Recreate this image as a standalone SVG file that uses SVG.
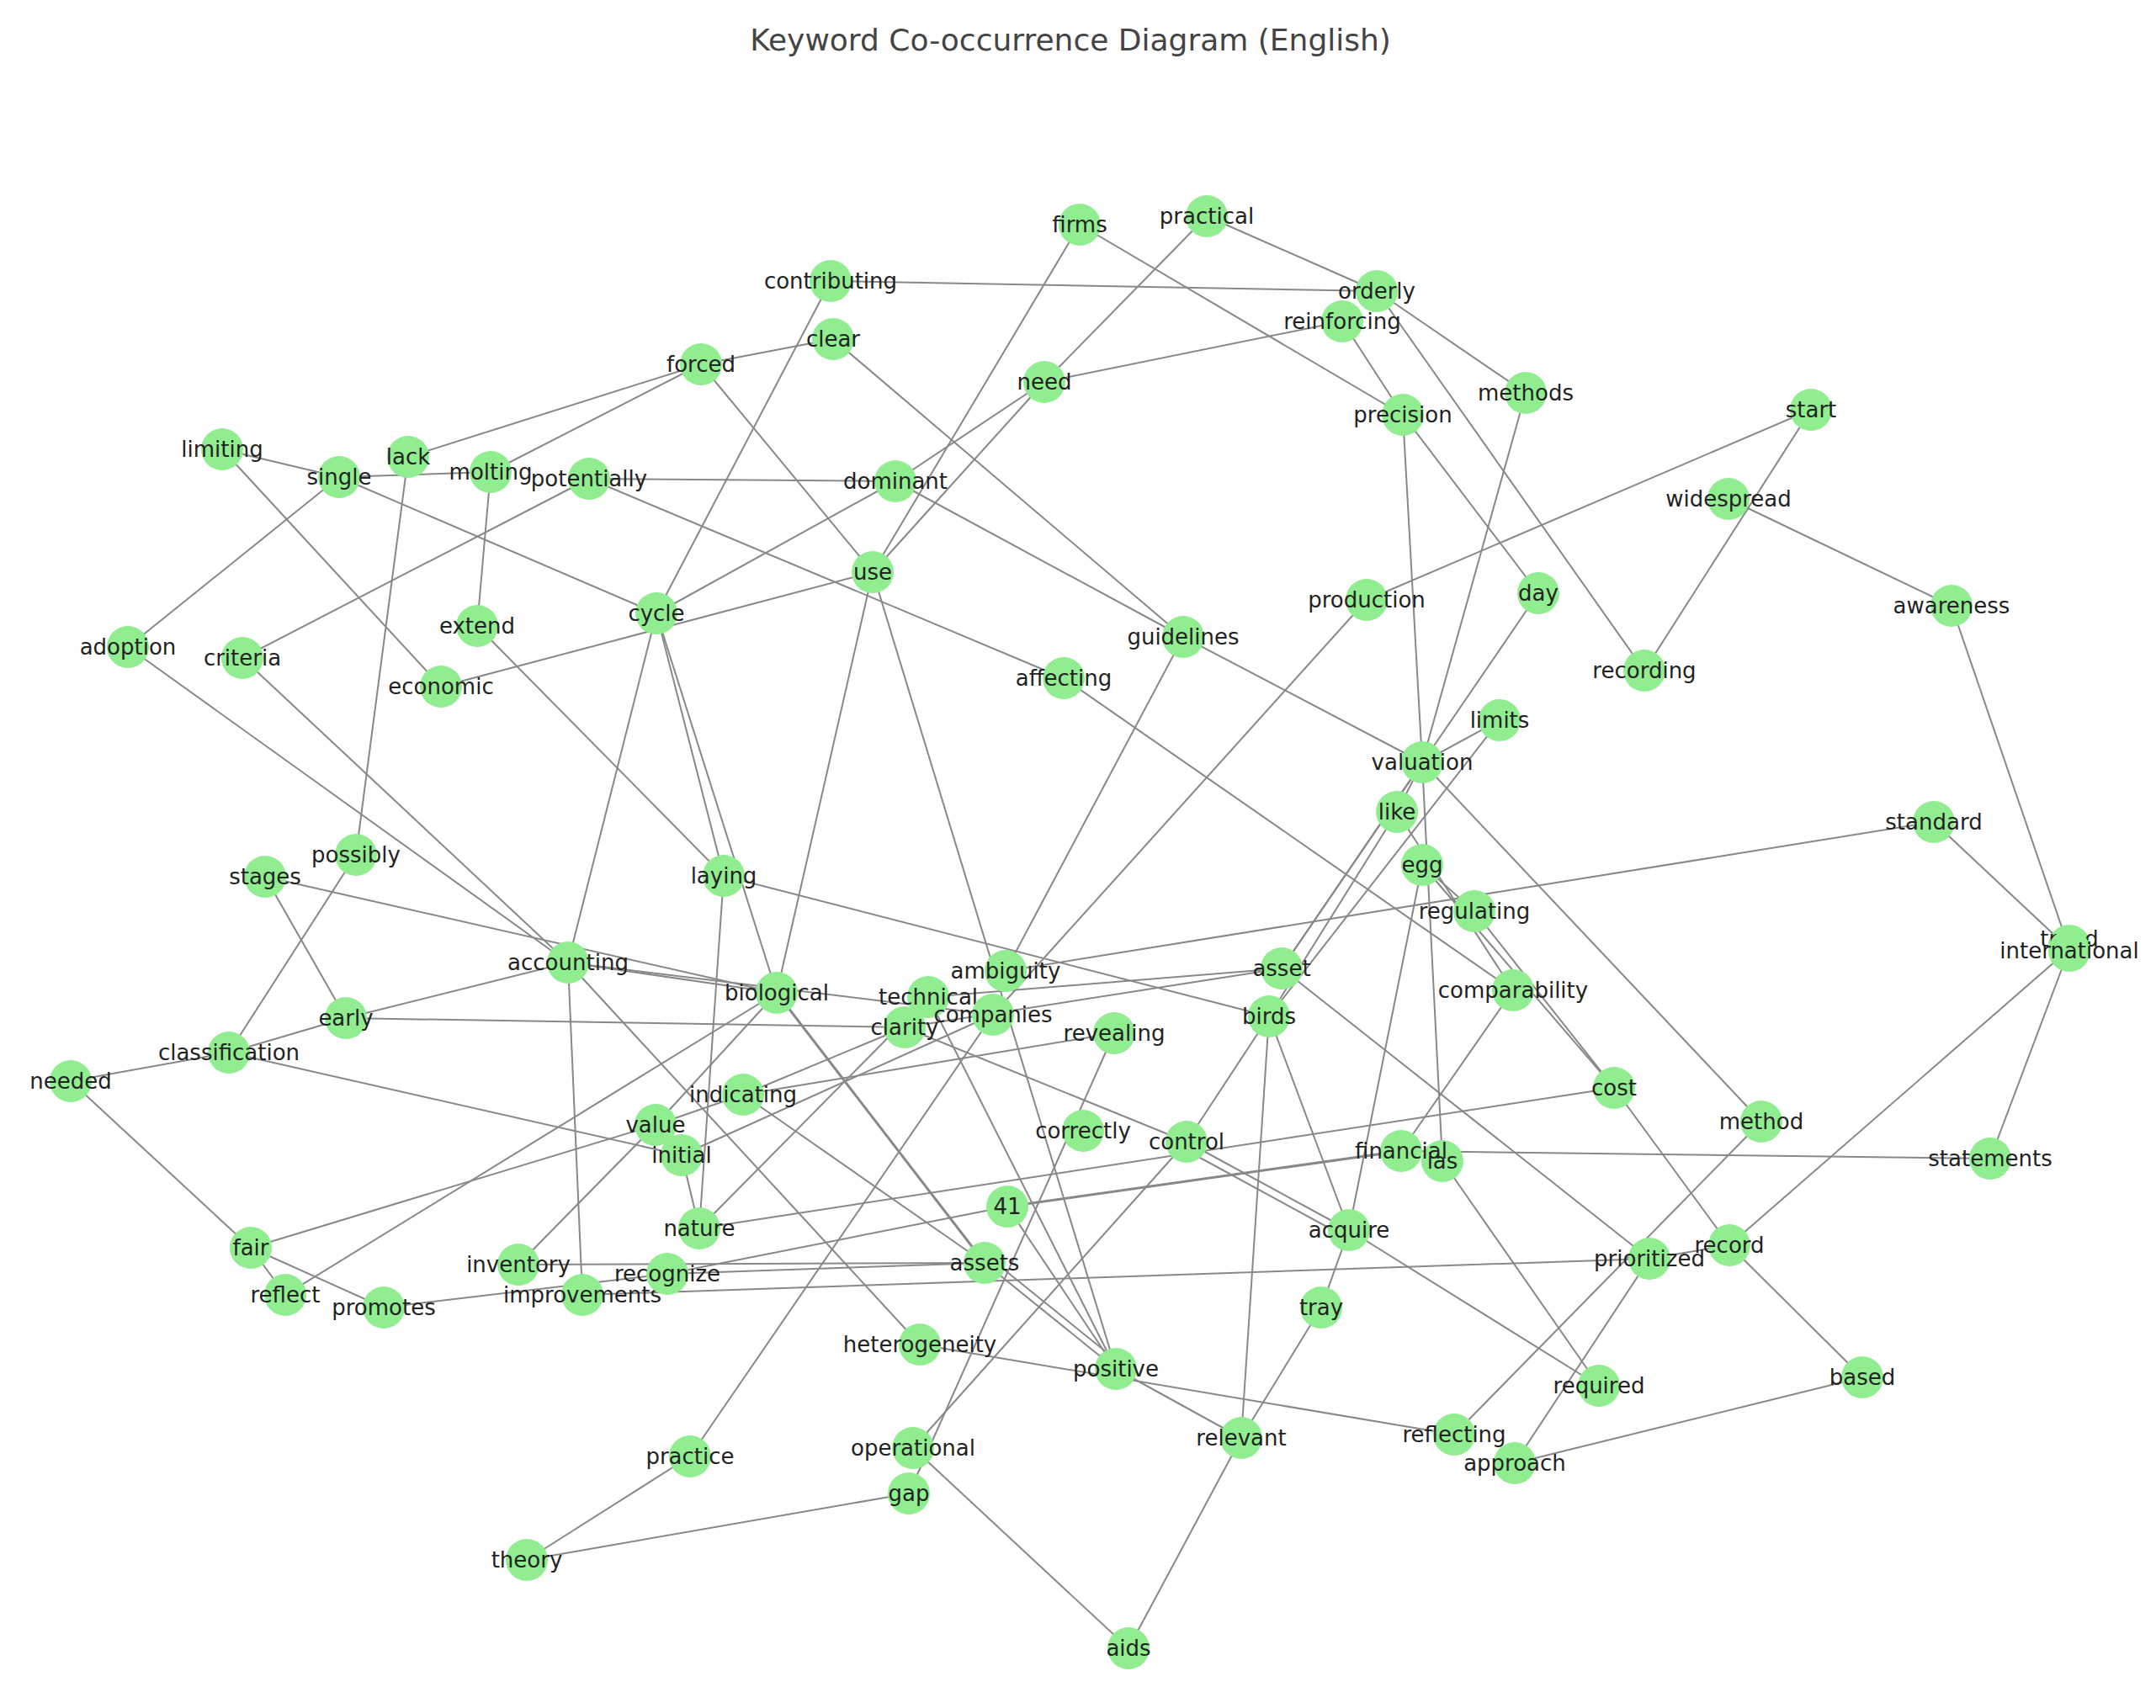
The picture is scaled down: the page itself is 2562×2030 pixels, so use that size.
<svg xmlns="http://www.w3.org/2000/svg" width="2562" height="2030" viewBox="0 0 2562 2030">
<style>
.e line{stroke:#888;stroke-width:2}
.n circle{fill:#90ee90}
.n text{font-family:"DejaVu Sans",sans-serif;font-size:26px;fill:#222;text-anchor:middle;dominant-baseline:central}
.t{font-family:"DejaVu Sans",sans-serif;font-size:36px;fill:#444;text-anchor:middle}
</style>
<rect width="2562" height="2030" fill="#fff"/>
<text class="t" x="1272" y="60">Keyword Co-occurrence Diagram (English)</text>
<g class="e" id="edges">
<line x1="1283" y1="267" x2="1037" y2="680"/>
<line x1="1283" y1="267" x2="1667" y2="493"/>
<line x1="1434" y1="257" x2="1241" y2="454"/>
<line x1="1434" y1="257" x2="1636" y2="346"/>
<line x1="987" y1="334" x2="1636" y2="346"/>
<line x1="987" y1="334" x2="780" y2="729"/>
<line x1="1636" y1="346" x2="1813" y2="467"/>
<line x1="1636" y1="346" x2="1954" y2="797"/>
<line x1="1595" y1="382" x2="1241" y2="454"/>
<line x1="1595" y1="382" x2="1667" y2="493"/>
<line x1="990" y1="403" x2="833" y2="433"/>
<line x1="990" y1="403" x2="1406" y2="757"/>
<line x1="833" y1="433" x2="485" y2="543"/>
<line x1="833" y1="433" x2="583" y2="561"/>
<line x1="833" y1="433" x2="1037" y2="680"/>
<line x1="1241" y1="454" x2="1064" y2="572"/>
<line x1="1241" y1="454" x2="1037" y2="680"/>
<line x1="1813" y1="467" x2="1690" y2="906"/>
<line x1="2152" y1="487" x2="1624" y2="713"/>
<line x1="2152" y1="487" x2="1954" y2="797"/>
<line x1="1667" y1="493" x2="1690" y2="906"/>
<line x1="1667" y1="493" x2="1828" y2="705"/>
<line x1="264" y1="534" x2="403" y2="567"/>
<line x1="264" y1="534" x2="524" y2="816"/>
<line x1="485" y1="543" x2="423" y2="1016"/>
<line x1="403" y1="567" x2="583" y2="561"/>
<line x1="403" y1="567" x2="152" y2="769"/>
<line x1="403" y1="567" x2="780" y2="729"/>
<line x1="583" y1="561" x2="567" y2="744"/>
<line x1="700" y1="569" x2="1064" y2="572"/>
<line x1="700" y1="569" x2="288" y2="782"/>
<line x1="700" y1="569" x2="1264" y2="806"/>
<line x1="1064" y1="572" x2="1406" y2="757"/>
<line x1="1064" y1="572" x2="780" y2="729"/>
<line x1="2054" y1="593" x2="2319" y2="720"/>
<line x1="524" y1="816" x2="1037" y2="680"/>
<line x1="1037" y1="680" x2="923" y2="1180"/>
<line x1="1037" y1="680" x2="1326" y2="1627"/>
<line x1="780" y1="729" x2="675" y2="1144"/>
<line x1="780" y1="729" x2="860" y2="1041"/>
<line x1="780" y1="729" x2="923" y2="1180"/>
<line x1="567" y1="744" x2="860" y2="1041"/>
<line x1="2319" y1="720" x2="2459" y2="1128"/>
<line x1="152" y1="769" x2="675" y2="1144"/>
<line x1="288" y1="782" x2="675" y2="1144"/>
<line x1="1406" y1="757" x2="1690" y2="906"/>
<line x1="1406" y1="757" x2="1195" y2="1154"/>
<line x1="1264" y1="806" x2="1798" y2="1177"/>
<line x1="1624" y1="713" x2="1180" y2="1206"/>
<line x1="1828" y1="705" x2="1523" y2="1151"/>
<line x1="1782" y1="856" x2="1690" y2="906"/>
<line x1="1782" y1="856" x2="1508" y2="1208"/>
<line x1="1690" y1="906" x2="1660" y2="965"/>
<line x1="1690" y1="906" x2="1714" y2="1380"/>
<line x1="1690" y1="906" x2="2093" y2="1333"/>
<line x1="1690" y1="906" x2="1523" y2="1151"/>
<line x1="1660" y1="965" x2="1508" y2="1208"/>
<line x1="1660" y1="965" x2="1798" y2="1177"/>
<line x1="1690" y1="1028" x2="1752" y2="1083"/>
<line x1="1690" y1="1028" x2="1918" y2="1293"/>
<line x1="1690" y1="1028" x2="1603" y2="1462"/>
<line x1="1752" y1="1083" x2="1918" y2="1293"/>
<line x1="2298" y1="977" x2="1195" y2="1154"/>
<line x1="2298" y1="977" x2="2459" y2="1128"/>
<line x1="1798" y1="1177" x2="1665" y2="1368"/>
<line x1="1523" y1="1151" x2="1960" y2="1496"/>
<line x1="1523" y1="1151" x2="1103" y2="1185"/>
<line x1="1523" y1="1151" x2="1075" y2="1221"/>
<line x1="1508" y1="1208" x2="1410" y2="1357"/>
<line x1="1508" y1="1208" x2="1475" y2="1709"/>
<line x1="1508" y1="1208" x2="1603" y2="1462"/>
<line x1="1508" y1="1208" x2="860" y2="1041"/>
<line x1="675" y1="1144" x2="411" y2="1210"/>
<line x1="675" y1="1144" x2="923" y2="1180"/>
<line x1="675" y1="1144" x2="692" y2="1539"/>
<line x1="675" y1="1144" x2="1093" y2="1598"/>
<line x1="675" y1="1144" x2="1180" y2="1206"/>
<line x1="315" y1="1042" x2="411" y2="1210"/>
<line x1="315" y1="1042" x2="923" y2="1180"/>
<line x1="423" y1="1016" x2="272" y2="1251"/>
<line x1="411" y1="1210" x2="1075" y2="1221"/>
<line x1="272" y1="1251" x2="84" y2="1285"/>
<line x1="272" y1="1251" x2="810" y2="1373"/>
<line x1="272" y1="1251" x2="411" y2="1210"/>
<line x1="84" y1="1285" x2="298" y2="1483"/>
<line x1="298" y1="1483" x2="339" y2="1539"/>
<line x1="298" y1="1483" x2="456" y2="1554"/>
<line x1="298" y1="1483" x2="779" y2="1337"/>
<line x1="339" y1="1539" x2="923" y2="1180"/>
<line x1="456" y1="1554" x2="793" y2="1514"/>
<line x1="616" y1="1503" x2="779" y2="1337"/>
<line x1="616" y1="1503" x2="1170" y2="1501"/>
<line x1="692" y1="1539" x2="1960" y2="1496"/>
<line x1="793" y1="1514" x2="1197" y2="1434"/>
<line x1="793" y1="1514" x2="1170" y2="1501"/>
<line x1="779" y1="1337" x2="883" y2="1301"/>
<line x1="810" y1="1373" x2="831" y2="1460"/>
<line x1="810" y1="1373" x2="1180" y2="1206"/>
<line x1="883" y1="1301" x2="1324" y2="1228"/>
<line x1="883" y1="1301" x2="1170" y2="1501"/>
<line x1="883" y1="1301" x2="1075" y2="1221"/>
<line x1="831" y1="1460" x2="1103" y2="1185"/>
<line x1="831" y1="1460" x2="1918" y2="1293"/>
<line x1="860" y1="1041" x2="831" y2="1460"/>
<line x1="923" y1="1180" x2="1170" y2="1501" style="stroke-width:3"/>
<line x1="923" y1="1180" x2="779" y2="1337"/>
<line x1="1197" y1="1434" x2="1665" y2="1368" style="stroke-width:3"/>
<line x1="1197" y1="1434" x2="1326" y2="1627"/>
<line x1="1324" y1="1228" x2="1080" y2="1775"/>
<line x1="1410" y1="1357" x2="1085" y2="1721"/>
<line x1="1180" y1="1206" x2="820" y2="1731"/>
<line x1="1103" y1="1185" x2="1326" y2="1627"/>
<line x1="1410" y1="1357" x2="1603" y2="1462"/>
<line x1="1404" y1="1364" x2="1597" y2="1469"/>
<line x1="1170" y1="1501" x2="1326" y2="1627"/>
<line x1="1176" y1="1495" x2="1332" y2="1621"/>
<line x1="1093" y1="1598" x2="1728" y2="1705"/>
<line x1="1326" y1="1627" x2="1475" y2="1709"/>
<line x1="1603" y1="1462" x2="1900" y2="1647"/>
<line x1="1603" y1="1462" x2="1570" y2="1554"/>
<line x1="1570" y1="1554" x2="1475" y2="1709"/>
<line x1="1475" y1="1709" x2="1341" y2="1959"/>
<line x1="1085" y1="1721" x2="1341" y2="1959"/>
<line x1="1080" y1="1775" x2="626" y2="1854"/>
<line x1="820" y1="1731" x2="626" y2="1854"/>
<line x1="1728" y1="1705" x2="2093" y2="1333"/>
<line x1="1800" y1="1739" x2="1960" y2="1496"/>
<line x1="1800" y1="1739" x2="2213" y2="1637"/>
<line x1="2055" y1="1480" x2="2213" y2="1637"/>
<line x1="2055" y1="1480" x2="1918" y2="1293"/>
<line x1="2055" y1="1480" x2="2459" y2="1128"/>
<line x1="1960" y1="1496" x2="2055" y2="1480"/>
<line x1="1714" y1="1380" x2="1900" y2="1647"/>
<line x1="1665" y1="1368" x2="2365" y2="1377"/>
<line x1="2459" y1="1128" x2="2365" y2="1377"/>
<line x1="1075" y1="1221" x2="1410" y2="1357"/>
</g>
<g class="n" id="n-firms"><circle cx="1283" cy="267" r="25"/><text x="1283" y="267">firms</text></g>
<g class="n" id="n-practical"><circle cx="1434" cy="257" r="25"/><text x="1434" y="257">practical</text></g>
<g class="n" id="n-contributing"><circle cx="987" cy="334" r="25"/><text x="987" y="334">contributing</text></g>
<g class="n" id="n-reinforcing"><circle cx="1595" cy="382" r="25"/><text x="1595" y="382">reinforcing</text></g>
<g class="n" id="n-orderly"><circle cx="1636" cy="346" r="25"/><text x="1636" y="346">orderly</text></g>
<g class="n" id="n-clear"><circle cx="990" cy="403" r="25"/><text x="990" y="403">clear</text></g>
<g class="n" id="n-forced"><circle cx="833" cy="433" r="25"/><text x="833" y="433">forced</text></g>
<g class="n" id="n-need"><circle cx="1241" cy="454" r="25"/><text x="1241" y="454">need</text></g>
<g class="n" id="n-methods"><circle cx="1813" cy="467" r="25"/><text x="1813" y="467">methods</text></g>
<g class="n" id="n-start"><circle cx="2152" cy="487" r="25"/><text x="2152" y="487">start</text></g>
<g class="n" id="n-precision"><circle cx="1667" cy="493" r="25"/><text x="1667" y="493">precision</text></g>
<g class="n" id="n-limiting"><circle cx="264" cy="534" r="25"/><text x="264" y="534">limiting</text></g>
<g class="n" id="n-lack"><circle cx="485" cy="543" r="25"/><text x="485" y="543">lack</text></g>
<g class="n" id="n-single"><circle cx="403" cy="567" r="25"/><text x="403" y="567">single</text></g>
<g class="n" id="n-potentially"><circle cx="700" cy="569" r="25"/><text x="700" y="569">potentially</text></g>
<g class="n" id="n-molting"><circle cx="583" cy="561" r="25"/><text x="583" y="561">molting</text></g>
<g class="n" id="n-dominant"><circle cx="1064" cy="572" r="25"/><text x="1064" y="572">dominant</text></g>
<g class="n" id="n-widespread"><circle cx="2054" cy="593" r="25"/><text x="2054" y="593">widespread</text></g>
<g class="n" id="n-use"><circle cx="1037" cy="680" r="25"/><text x="1037" y="680">use</text></g>
<g class="n" id="n-cycle"><circle cx="780" cy="729" r="25"/><text x="780" y="729">cycle</text></g>
<g class="n" id="n-extend"><circle cx="567" cy="744" r="25"/><text x="567" y="744">extend</text></g>
<g class="n" id="n-production"><circle cx="1624" cy="713" r="25"/><text x="1624" y="713">production</text></g>
<g class="n" id="n-day"><circle cx="1828" cy="705" r="25"/><text x="1828" y="705">day</text></g>
<g class="n" id="n-awareness"><circle cx="2319" cy="720" r="25"/><text x="2319" y="720">awareness</text></g>
<g class="n" id="n-adoption"><circle cx="152" cy="769" r="25"/><text x="152" y="769">adoption</text></g>
<g class="n" id="n-criteria"><circle cx="288" cy="782" r="25"/><text x="288" y="782">criteria</text></g>
<g class="n" id="n-economic"><circle cx="524" cy="816" r="25"/><text x="524" y="816">economic</text></g>
<g class="n" id="n-guidelines"><circle cx="1406" cy="757" r="25"/><text x="1406" y="757">guidelines</text></g>
<g class="n" id="n-affecting"><circle cx="1264" cy="806" r="25"/><text x="1264" y="806">affecting</text></g>
<g class="n" id="n-recording"><circle cx="1954" cy="797" r="25"/><text x="1954" y="797">recording</text></g>
<g class="n" id="n-limits"><circle cx="1782" cy="856" r="25"/><text x="1782" y="856">limits</text></g>
<g class="n" id="n-valuation"><circle cx="1690" cy="906" r="25"/><text x="1690" y="906">valuation</text></g>
<g class="n" id="n-like"><circle cx="1660" cy="965" r="25"/><text x="1660" y="965">like</text></g>
<g class="n" id="n-standard"><circle cx="2298" cy="977" r="25"/><text x="2298" y="977">standard</text></g>
<g class="n" id="n-egg"><circle cx="1690" cy="1028" r="25"/><text x="1690" y="1028">egg</text></g>
<g class="n" id="n-possibly"><circle cx="423" cy="1016" r="25"/><text x="423" y="1016">possibly</text></g>
<g class="n" id="n-stages"><circle cx="315" cy="1042" r="25"/><text x="315" y="1042">stages</text></g>
<g class="n" id="n-laying"><circle cx="860" cy="1041" r="25"/><text x="860" y="1041">laying</text></g>
<g class="n" id="n-regulating"><circle cx="1752" cy="1083" r="25"/><text x="1752" y="1083">regulating</text></g>
<g class="n" id="n-trend"><circle cx="2459" cy="1124" r="25"/><text x="2459" y="1116">trend</text></g>
<g class="n" id="n-international"><circle cx="2459" cy="1130" r="25"/><text x="2459" y="1130">international</text></g>
<g class="n" id="n-accounting"><circle cx="675" cy="1144" r="25"/><text x="675" y="1144">accounting</text></g>
<g class="n" id="n-asset"><circle cx="1523" cy="1151" r="25"/><text x="1523" y="1151">asset</text></g>
<g class="n" id="n-ambiguity"><circle cx="1195" cy="1154" r="25"/><text x="1195" y="1154">ambiguity</text></g>
<g class="n" id="n-comparability"><circle cx="1798" cy="1177" r="25"/><text x="1798" y="1177">comparability</text></g>
<g class="n" id="n-biological"><circle cx="923" cy="1180" r="25"/><text x="923" y="1180">biological</text></g>
<g class="n" id="n-technical"><circle cx="1103" cy="1185" r="25"/><text x="1103" y="1185">technical</text></g>
<g class="n" id="n-clarity"><circle cx="1075" cy="1221" r="25"/><text x="1075" y="1221">clarity</text></g>
<g class="n" id="n-companies"><circle cx="1180" cy="1206" r="25"/><text x="1180" y="1206">companies</text></g>
<g class="n" id="n-birds"><circle cx="1508" cy="1208" r="25"/><text x="1508" y="1208">birds</text></g>
<g class="n" id="n-early"><circle cx="411" cy="1210" r="25"/><text x="411" y="1210">early</text></g>
<g class="n" id="n-revealing"><circle cx="1324" cy="1228" r="25"/><text x="1324" y="1228">revealing</text></g>
<g class="n" id="n-classification"><circle cx="272" cy="1251" r="25"/><text x="272" y="1251">classification</text></g>
<g class="n" id="n-needed"><circle cx="84" cy="1285" r="25"/><text x="84" y="1285">needed</text></g>
<g class="n" id="n-cost"><circle cx="1918" cy="1293" r="25"/><text x="1918" y="1293">cost</text></g>
<g class="n" id="n-indicating"><circle cx="883" cy="1301" r="25"/><text x="883" y="1301">indicating</text></g>
<g class="n" id="n-value"><circle cx="779" cy="1337" r="25"/><text x="779" y="1337">value</text></g>
<g class="n" id="n-initial"><circle cx="810" cy="1373" r="25"/><text x="810" y="1373">initial</text></g>
<g class="n" id="n-correctly"><circle cx="1287" cy="1344" r="25"/><text x="1287" y="1344">correctly</text></g>
<g class="n" id="n-control"><circle cx="1410" cy="1357" r="25"/><text x="1410" y="1357">control</text></g>
<g class="n" id="n-method"><circle cx="2093" cy="1333" r="25"/><text x="2093" y="1333">method</text></g>
<g class="n" id="n-ias"><circle cx="1714" cy="1380" r="25"/><text x="1714" y="1380">ias</text></g>
<g class="n" id="n-financial"><circle cx="1665" cy="1368" r="25"/><text x="1665" y="1368">financial</text></g>
<g class="n" id="n-statements"><circle cx="2365" cy="1377" r="25"/><text x="2365" y="1377">statements</text></g>
<g class="n" id="n-41"><circle cx="1197" cy="1434" r="25"/><text x="1197" y="1434">41</text></g>
<g class="n" id="n-nature"><circle cx="831" cy="1460" r="25"/><text x="831" y="1460">nature</text></g>
<g class="n" id="n-acquire"><circle cx="1603" cy="1462" r="25"/><text x="1603" y="1462">acquire</text></g>
<g class="n" id="n-fair"><circle cx="298" cy="1483" r="25"/><text x="298" y="1483">fair</text></g>
<g class="n" id="n-inventory"><circle cx="616" cy="1503" r="25"/><text x="616" y="1503">inventory</text></g>
<g class="n" id="n-improvements"><circle cx="692" cy="1539" r="25"/><text x="692" y="1539">improvements</text></g>
<g class="n" id="n-recognize"><circle cx="793" cy="1514" r="25"/><text x="793" y="1514">recognize</text></g>
<g class="n" id="n-assets"><circle cx="1170" cy="1501" r="25"/><text x="1170" y="1501">assets</text></g>
<g class="n" id="n-record"><circle cx="2055" cy="1480" r="25"/><text x="2055" y="1480">record</text></g>
<g class="n" id="n-prioritized"><circle cx="1960" cy="1496" r="25"/><text x="1960" y="1496">prioritized</text></g>
<g class="n" id="n-reflect"><circle cx="339" cy="1539" r="25"/><text x="339" y="1539">reflect</text></g>
<g class="n" id="n-promotes"><circle cx="456" cy="1554" r="25"/><text x="456" y="1554">promotes</text></g>
<g class="n" id="n-tray"><circle cx="1570" cy="1554" r="25"/><text x="1570" y="1554">tray</text></g>
<g class="n" id="n-heterogeneity"><circle cx="1093" cy="1598" r="25"/><text x="1093" y="1598">heterogeneity</text></g>
<g class="n" id="n-positive"><circle cx="1326" cy="1627" r="25"/><text x="1326" y="1627">positive</text></g>
<g class="n" id="n-required"><circle cx="1900" cy="1647" r="25"/><text x="1900" y="1647">required</text></g>
<g class="n" id="n-based"><circle cx="2213" cy="1637" r="25"/><text x="2213" y="1637">based</text></g>
<g class="n" id="n-reflecting"><circle cx="1728" cy="1705" r="25"/><text x="1728" y="1705">reflecting</text></g>
<g class="n" id="n-approach"><circle cx="1800" cy="1739" r="25"/><text x="1800" y="1739">approach</text></g>
<g class="n" id="n-relevant"><circle cx="1475" cy="1709" r="25"/><text x="1475" y="1709">relevant</text></g>
<g class="n" id="n-practice"><circle cx="820" cy="1731" r="25"/><text x="820" y="1731">practice</text></g>
<g class="n" id="n-operational"><circle cx="1085" cy="1721" r="25"/><text x="1085" y="1721">operational</text></g>
<g class="n" id="n-gap"><circle cx="1080" cy="1775" r="25"/><text x="1080" y="1775">gap</text></g>
<g class="n" id="n-theory"><circle cx="626" cy="1854" r="25"/><text x="626" y="1854">theory</text></g>
<g class="n" id="n-aids"><circle cx="1341" cy="1959" r="25"/><text x="1341" y="1959">aids</text></g>
</svg>
